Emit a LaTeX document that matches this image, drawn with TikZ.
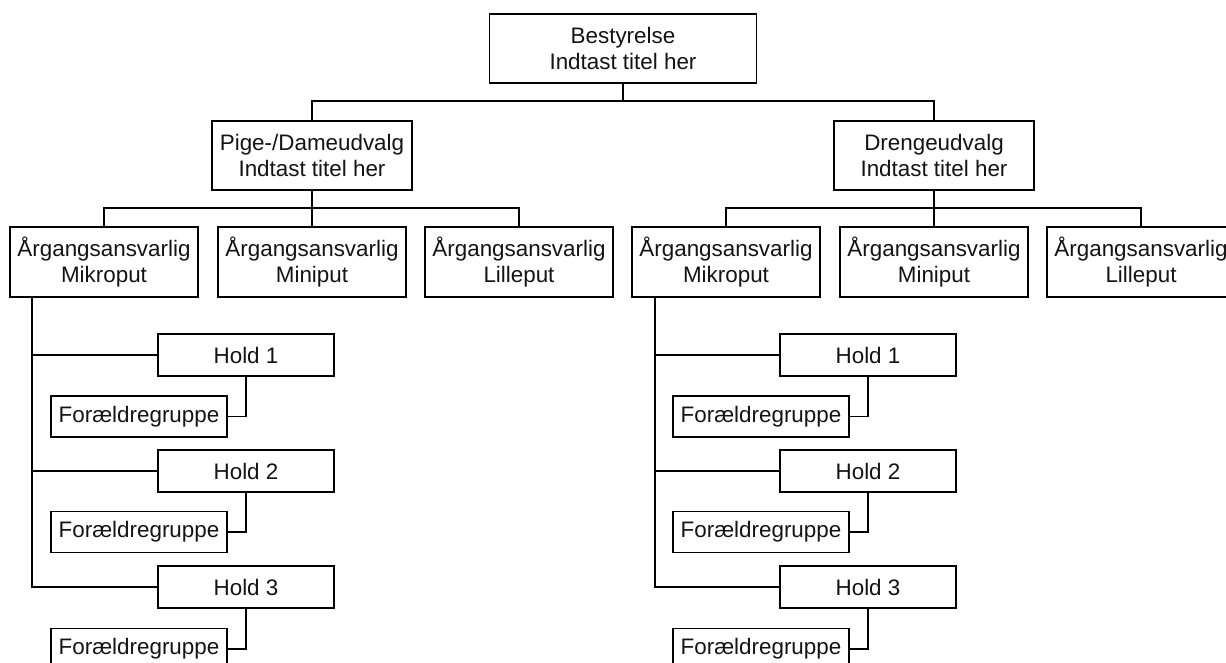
\documentclass[tikz,border=0pt]{standalone}
\usepackage{fontspec}
\setmainfont{Liberation Sans}
\begin{document}
\begin{tikzpicture}[x=1pt,y=-1pt,
  bx/.style={draw=black, line width=1.8pt, inner sep=0pt, align=center,
    font=\fontsize{22.4}{26.5}\selectfont, text=black!92},
  bigbox/.style={bx, minimum width=267pt, minimum height=69pt},
  midbox/.style={bx, minimum width=200pt, minimum height=69pt},
  agbox/.style={bx, minimum width=188pt, minimum height=70pt},
  holdbox/.style={bx, minimum width=176pt, minimum height=42pt},
  parbox/.style={bx, minimum width=176pt, minimum height=41pt},
  conn/.style={draw=black, line width=1.8pt}]
\useasboundingbox (0,0) rectangle (1226,663);
\fill[white] (0,0) rectangle (1226,663);

% top
\node[bigbox] (top) at (623,48.5) {Bestyrelse\\Indtast titel her};
\node[midbox] (pige) at (312,155.5) {Pige-/Dameudvalg\\Indtast titel her};
\node[midbox] (dreng) at (934,155.5) {Drengeudvalg\\Indtast titel her};

\coordinate (j0) at (623,101);
\draw[conn] (top.south) -- (j0);
\draw[conn] (pige.north) |- (j0) -| (dreng.north);

% left group
\node[agbox] (la1) at (104,262) {Årgangsansvarlig\\Mikroput};
\node[agbox] (la2) at (312,262) {Årgangsansvarlig\\Miniput};
\node[agbox] (la3) at (519,262) {Årgangsansvarlig\\Lilleput};
\coordinate (j1) at (312,208);
\draw[conn] (pige.south) -- (j1);
\draw[conn] (la1.north) |- (j1) -| (la3.north);
\draw[conn] (j1) -- (la2.north);

% right group
\node[agbox] (ra1) at (726,262) {Årgangsansvarlig\\Mikroput};
\node[agbox] (ra2) at (934,262) {Årgangsansvarlig\\Miniput};
\node[agbox] (ra3) at (1141,262) {Årgangsansvarlig\\Lilleput};
\coordinate (j2) at (934,208);
\draw[conn] (dreng.south) -- (j2);
\draw[conn] (ra1.north) |- (j2) -| (ra3.north);
\draw[conn] (j2) -- (ra2.north);

% left teams
\node[holdbox] (lh1) at (246,355) {Hold 1};
\node[holdbox] (lh2) at (246,471) {Hold 2};
\node[holdbox] (lh3) at (246,587) {Hold 3};
\node[parbox] (lf1) at (139,416.5) {Forældregruppe};
\node[parbox] (lf2) at (139,532) {Forældregruppe};
\node[parbox] (lf3) at (139,649) {Forældregruppe};
\coordinate (vL) at (32,0);
\draw[conn] (vL |- la1.south) |- (lh3.west);
\draw[conn] (vL |- lh1.west) -- (lh1.west);
\draw[conn] (vL |- lh2.west) -- (lh2.west);
\draw[conn] (lh1.south) |- (lf1.east);
\draw[conn] (lh2.south) |- (lf2.east);
\draw[conn] (lh3.south) |- (lf3.east);

% right teams
\node[holdbox] (rh1) at (868,355) {Hold 1};
\node[holdbox] (rh2) at (868,471) {Hold 2};
\node[holdbox] (rh3) at (868,587) {Hold 3};
\node[parbox] (rf1) at (761,416.5) {Forældregruppe};
\node[parbox] (rf2) at (761,532) {Forældregruppe};
\node[parbox] (rf3) at (761,649) {Forældregruppe};
\coordinate (vR) at (655,0);
\draw[conn] (vR |- ra1.south) |- (rh3.west);
\draw[conn] (vR |- rh1.west) -- (rh1.west);
\draw[conn] (vR |- rh2.west) -- (rh2.west);
\draw[conn] (rh1.south) |- (rf1.east);
\draw[conn] (rh2.south) |- (rf2.east);
\draw[conn] (rh3.south) |- (rf3.east);
\end{tikzpicture}
\end{document}
